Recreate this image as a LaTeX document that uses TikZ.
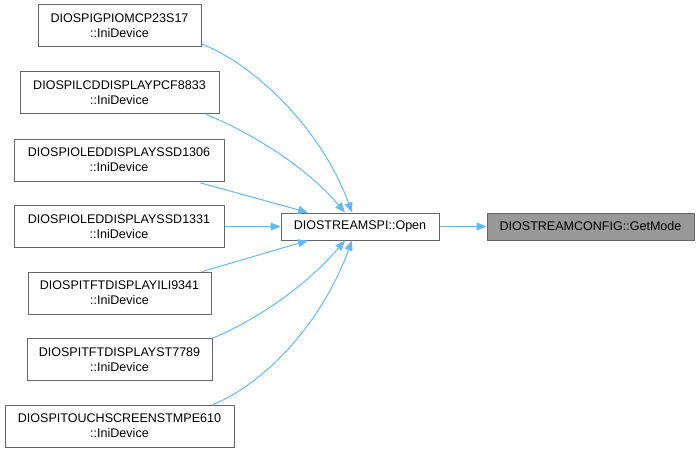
\documentclass[tikz,border=0pt]{standalone}
\usepackage{fontspec}
\setmainfont{Liberation Sans}
\usetikzlibrary{arrows.meta,calc}
\definecolor{edgeblue}{HTML}{63B8FF}
\definecolor{nodeborder}{HTML}{666666}
\definecolor{hlfill}{HTML}{999999}
\begin{document}
\begin{tikzpicture}[x=0.75pt,y=-0.75pt,
  box/.style={draw=nodeborder,line width=0.75pt,fill=white,inner sep=0pt,align=center,
    font=\fontsize{9.4}{11.25}\selectfont},
  twoline/.style={box,minimum height=31.5pt},
  oneline/.style={box,minimum height=20.25pt},
  link/.style={draw=edgeblue,line width=0.75pt,-{Triangle[length=7.5pt,width=6pt]}}
]
\useasboundingbox (0,0) rectangle (700,453);
\node[twoline,minimum width=122.25pt] (n1) at (119.5,26) {DIOSPIGPIOMCP23S17\\::IniDevice};
\node[twoline,minimum width=149.25pt] (n2) at (119.5,93) {DIOSPILCDDISPLAYPCF8833\\::IniDevice};
\node[twoline,minimum width=157.5pt] (n3) at (119,160) {DIOSPIOLEDDISPLAYSSD1306\\::IniDevice};
\node[twoline,minimum width=157.5pt] (n4) at (119,226.5) {DIOSPIOLEDDISPLAYSSD1331\\::IniDevice};
\node[twoline,minimum width=137.25pt] (n5) at (119.5,293) {DIOSPITFTDISPLAYILI9341\\::IniDevice};
\node[twoline,minimum width=138.75pt] (n6) at (119.5,359.5) {DIOSPITFTDISPLAYST7789\\::IniDevice};
\node[twoline,minimum width=171.75pt] (n7) at (119.5,426) {DIOSPITOUCHSCREENSTMPE610\\::IniDevice};
\node[oneline,minimum width=118.5pt] (open) at (360,226.5) {DIOSTREAMSPI::Open};
\node[oneline,minimum width=155.25pt,fill=hlfill] (gm) at (590.5,226.5) {DIOSTREAMCONFIG::GetMode};

\coordinate (o1) at ([xshift=-6pt]open.north);
\coordinate (o2) at ([xshift=-11.25pt]open.north);
\coordinate (o3) at ([xshift=-39pt]open.north);
\coordinate (u1) at ([xshift=-6pt]open.south);
\coordinate (u2) at ([xshift=-11.25pt]open.south);
\coordinate (u3) at ([xshift=-39pt]open.south);

\draw[link] ([yshift=-13.5pt]n1.east) .. controls (250,62) and (320,125) .. (o1);
\draw[link] ([xshift=65pt]n2.south) .. controls (240,128) and (300,160) .. (o2);
\draw[link] ([xshift=61pt,yshift=-1pt]n3.south) -- (o3);
\draw[link] (n4.east) -- (open.west);
\draw[link] ([xshift=62pt]n5.north) -- (u3);
\draw[link] ([xshift=70pt]n6.north) .. controls (245,325) and (300,293) .. (u2);
\draw[link] ([xshift=70pt]n7.north) .. controls (260,386) and (320,328) .. (u1);
\draw[link] (open.east) -- (gm.west);
\end{tikzpicture}
\end{document}
